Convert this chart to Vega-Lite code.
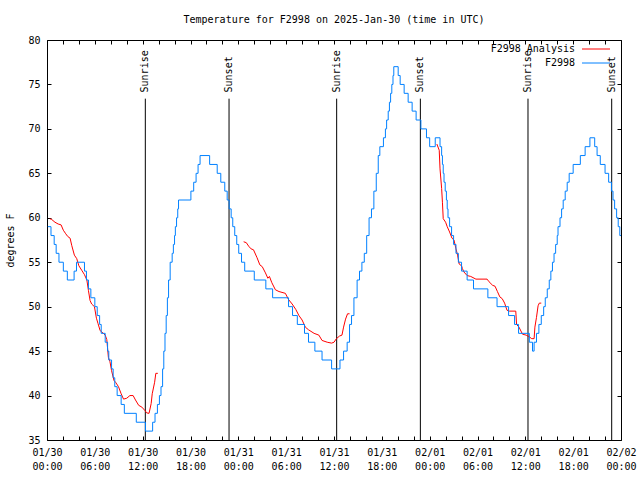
{
  "$schema": "https://vega.github.io/schema/vega-lite/v6.json",
  "width": 574,
  "height": 400,
  "autosize": {"type": "none"},
  "padding": {"left": 47, "top": 40, "right": 19, "bottom": 40},
  "background": "white",
  "config": {
    "view": {"stroke": "black", "strokeWidth": 1},
    "font": "DejaVu Sans Mono",
    "axis": {
      "domain": false, "grid": false,
      "labelFont": "DejaVu Sans Mono", "labelFontSize": 10, "labelColor": "black",
      "tickColor": "black", "tickSize": -4, "tickWidth": 1,
      "titleFont": "DejaVu Sans Mono", "titleFontSize": 10, "titleFontWeight": "normal", "titleColor": "black"
    },
    "legend": {
      "orient": "none", "legendX": 544, "legendY": 4, "padding": 0,
      "labelFont": "DejaVu Sans Mono", "labelFontSize": 10, "labelColor": "black",
      "symbolType": "M-4,0H4", "symbolSize": 49, "symbolStrokeWidth": 1,
      "labelAlign": "right", "labelOffset": -26, "rowPadding": 4
    }
  },
  "title": {
    "text": "Temperature for F2998 on 2025-Jan-30 (time in UTC)",
    "font": "DejaVu Sans Mono", "fontSize": 10, "fontWeight": "normal", "color": "black",
    "anchor": "middle", "offset": 10
  },
  "datasets": {
    "sun": [
      {"t": "2025-01-30T12:20:00Z", "label": "Sunrise"},
      {"t": "2025-01-30T22:50:00Z", "label": "Sunset"},
      {"t": "2025-01-31T12:20:00Z", "label": "Sunrise"},
      {"t": "2025-01-31T22:50:00Z", "label": "Sunset"},
      {"t": "2025-02-01T12:20:00Z", "label": "Sunrise"},
      {"t": "2025-02-01T22:50:00Z", "label": "Sunset"}
    ],
    "obs": [
      {"t":"2025-01-30T00:06:00Z","v":59,"s":"F2998","g":0},
      {"t":"2025-01-30T00:30:00Z","v":58,"s":"F2998","g":0},
      {"t":"2025-01-30T00:54:00Z","v":57,"s":"F2998","g":0},
      {"t":"2025-01-30T01:09:00Z","v":56,"s":"F2998","g":0},
      {"t":"2025-01-30T01:30:00Z","v":55,"s":"F2998","g":0},
      {"t":"2025-01-30T02:03:00Z","v":54,"s":"F2998","g":0},
      {"t":"2025-01-30T02:33:00Z","v":53,"s":"F2998","g":0},
      {"t":"2025-01-30T03:24:00Z","v":54,"s":"F2998","g":0},
      {"t":"2025-01-30T03:42:00Z","v":55,"s":"F2998","g":0},
      {"t":"2025-01-30T04:42:00Z","v":54,"s":"F2998","g":0},
      {"t":"2025-01-30T04:57:00Z","v":53,"s":"F2998","g":0},
      {"t":"2025-01-30T05:12:00Z","v":52,"s":"F2998","g":0},
      {"t":"2025-01-30T05:30:00Z","v":51,"s":"F2998","g":0},
      {"t":"2025-01-30T06:00:00Z","v":50,"s":"F2998","g":0},
      {"t":"2025-01-30T06:18:00Z","v":49,"s":"F2998","g":0},
      {"t":"2025-01-30T06:36:00Z","v":48,"s":"F2998","g":0},
      {"t":"2025-01-30T06:48:00Z","v":47,"s":"F2998","g":0},
      {"t":"2025-01-30T07:18:00Z","v":46,"s":"F2998","g":0},
      {"t":"2025-01-30T07:36:00Z","v":45,"s":"F2998","g":0},
      {"t":"2025-01-30T07:45:00Z","v":44,"s":"F2998","g":0},
      {"t":"2025-01-30T08:06:00Z","v":43,"s":"F2998","g":0},
      {"t":"2025-01-30T08:18:00Z","v":42,"s":"F2998","g":0},
      {"t":"2025-01-30T08:30:00Z","v":41,"s":"F2998","g":0},
      {"t":"2025-01-30T08:48:00Z","v":40,"s":"F2998","g":0},
      {"t":"2025-01-30T09:18:00Z","v":39,"s":"F2998","g":0},
      {"t":"2025-01-30T09:42:00Z","v":38,"s":"F2998","g":0},
      {"t":"2025-01-30T11:12:00Z","v":37,"s":"F2998","g":0},
      {"t":"2025-01-30T12:21:00Z","v":36,"s":"F2998","g":0},
      {"t":"2025-01-30T13:15:00Z","v":37,"s":"F2998","g":0},
      {"t":"2025-01-30T13:33:00Z","v":38,"s":"F2998","g":0},
      {"t":"2025-01-30T13:51:00Z","v":39,"s":"F2998","g":0},
      {"t":"2025-01-30T14:06:00Z","v":40,"s":"F2998","g":0},
      {"t":"2025-01-30T14:18:00Z","v":41,"s":"F2998","g":0},
      {"t":"2025-01-30T14:30:00Z","v":43,"s":"F2998","g":0},
      {"t":"2025-01-30T14:39:00Z","v":45,"s":"F2998","g":0},
      {"t":"2025-01-30T14:48:00Z","v":47,"s":"F2998","g":0},
      {"t":"2025-01-30T14:57:00Z","v":49,"s":"F2998","g":0},
      {"t":"2025-01-30T15:06:00Z","v":51,"s":"F2998","g":0},
      {"t":"2025-01-30T15:15:00Z","v":53,"s":"F2998","g":0},
      {"t":"2025-01-30T15:27:00Z","v":55,"s":"F2998","g":0},
      {"t":"2025-01-30T15:42:00Z","v":56,"s":"F2998","g":0},
      {"t":"2025-01-30T15:51:00Z","v":57,"s":"F2998","g":0},
      {"t":"2025-01-30T16:00:00Z","v":58,"s":"F2998","g":0},
      {"t":"2025-01-30T16:06:00Z","v":59,"s":"F2998","g":0},
      {"t":"2025-01-30T16:15:00Z","v":60,"s":"F2998","g":0},
      {"t":"2025-01-30T16:24:00Z","v":61,"s":"F2998","g":0},
      {"t":"2025-01-30T16:30:00Z","v":62,"s":"F2998","g":0},
      {"t":"2025-01-30T18:03:00Z","v":63,"s":"F2998","g":0},
      {"t":"2025-01-30T18:24:00Z","v":64,"s":"F2998","g":0},
      {"t":"2025-01-30T18:42:00Z","v":65,"s":"F2998","g":0},
      {"t":"2025-01-30T18:57:00Z","v":66,"s":"F2998","g":0},
      {"t":"2025-01-30T19:12:00Z","v":67,"s":"F2998","g":0},
      {"t":"2025-01-30T20:24:00Z","v":66,"s":"F2998","g":0},
      {"t":"2025-01-30T21:21:00Z","v":65,"s":"F2998","g":0},
      {"t":"2025-01-30T21:48:00Z","v":64,"s":"F2998","g":0},
      {"t":"2025-01-30T22:18:00Z","v":63,"s":"F2998","g":0},
      {"t":"2025-01-30T22:36:00Z","v":62,"s":"F2998","g":0},
      {"t":"2025-01-30T22:51:00Z","v":61,"s":"F2998","g":0},
      {"t":"2025-01-30T23:06:00Z","v":60,"s":"F2998","g":0},
      {"t":"2025-01-30T23:18:00Z","v":59,"s":"F2998","g":0},
      {"t":"2025-01-30T23:33:00Z","v":58,"s":"F2998","g":0},
      {"t":"2025-01-30T23:48:00Z","v":57,"s":"F2998","g":0},
      {"t":"2025-01-31T00:03:00Z","v":56,"s":"F2998","g":0},
      {"t":"2025-01-31T00:24:00Z","v":55,"s":"F2998","g":0},
      {"t":"2025-01-31T00:48:00Z","v":54,"s":"F2998","g":0},
      {"t":"2025-01-31T02:00:00Z","v":53,"s":"F2998","g":0},
      {"t":"2025-01-31T03:27:00Z","v":52,"s":"F2998","g":0},
      {"t":"2025-01-31T04:18:00Z","v":51,"s":"F2998","g":0},
      {"t":"2025-01-31T06:18:00Z","v":50,"s":"F2998","g":0},
      {"t":"2025-01-31T06:48:00Z","v":49,"s":"F2998","g":0},
      {"t":"2025-01-31T07:24:00Z","v":48,"s":"F2998","g":0},
      {"t":"2025-01-31T08:18:00Z","v":47,"s":"F2998","g":0},
      {"t":"2025-01-31T08:48:00Z","v":46,"s":"F2998","g":0},
      {"t":"2025-01-31T09:36:00Z","v":45,"s":"F2998","g":0},
      {"t":"2025-01-31T10:30:00Z","v":44,"s":"F2998","g":0},
      {"t":"2025-01-31T11:42:00Z","v":43,"s":"F2998","g":0},
      {"t":"2025-01-31T12:45:00Z","v":44,"s":"F2998","g":0},
      {"t":"2025-01-31T13:12:00Z","v":45,"s":"F2998","g":0},
      {"t":"2025-01-31T13:39:00Z","v":46,"s":"F2998","g":0},
      {"t":"2025-01-31T13:57:00Z","v":48,"s":"F2998","g":0},
      {"t":"2025-01-31T14:12:00Z","v":49,"s":"F2998","g":0},
      {"t":"2025-01-31T14:30:00Z","v":51,"s":"F2998","g":0},
      {"t":"2025-01-31T14:54:00Z","v":53,"s":"F2998","g":0},
      {"t":"2025-01-31T15:12:00Z","v":54,"s":"F2998","g":0},
      {"t":"2025-01-31T15:30:00Z","v":55,"s":"F2998","g":0},
      {"t":"2025-01-31T15:48:00Z","v":56,"s":"F2998","g":0},
      {"t":"2025-01-31T16:06:00Z","v":58,"s":"F2998","g":0},
      {"t":"2025-01-31T16:24:00Z","v":60,"s":"F2998","g":0},
      {"t":"2025-01-31T16:42:00Z","v":61,"s":"F2998","g":0},
      {"t":"2025-01-31T17:00:00Z","v":63,"s":"F2998","g":0},
      {"t":"2025-01-31T17:18:00Z","v":65,"s":"F2998","g":0},
      {"t":"2025-01-31T17:33:00Z","v":67,"s":"F2998","g":0},
      {"t":"2025-01-31T17:45:00Z","v":68,"s":"F2998","g":0},
      {"t":"2025-01-31T18:12:00Z","v":69,"s":"F2998","g":0},
      {"t":"2025-01-31T18:27:00Z","v":70,"s":"F2998","g":0},
      {"t":"2025-01-31T18:36:00Z","v":71,"s":"F2998","g":0},
      {"t":"2025-01-31T18:48:00Z","v":72,"s":"F2998","g":0},
      {"t":"2025-01-31T18:57:00Z","v":73,"s":"F2998","g":0},
      {"t":"2025-01-31T19:06:00Z","v":74,"s":"F2998","g":0},
      {"t":"2025-01-31T19:15:00Z","v":75,"s":"F2998","g":0},
      {"t":"2025-01-31T19:24:00Z","v":76,"s":"F2998","g":0},
      {"t":"2025-01-31T19:30:00Z","v":77,"s":"F2998","g":0},
      {"t":"2025-01-31T20:03:00Z","v":76,"s":"F2998","g":0},
      {"t":"2025-01-31T20:18:00Z","v":75,"s":"F2998","g":0},
      {"t":"2025-01-31T20:48:00Z","v":74,"s":"F2998","g":0},
      {"t":"2025-01-31T21:18:00Z","v":73,"s":"F2998","g":0},
      {"t":"2025-01-31T21:48:00Z","v":72,"s":"F2998","g":0},
      {"t":"2025-01-31T22:18:00Z","v":71,"s":"F2998","g":0},
      {"t":"2025-01-31T22:54:00Z","v":70,"s":"F2998","g":0},
      {"t":"2025-01-31T23:36:00Z","v":69,"s":"F2998","g":0},
      {"t":"2025-02-01T00:00:00Z","v":68,"s":"F2998","g":0},
      {"t":"2025-02-01T00:42:00Z","v":69,"s":"F2998","g":0},
      {"t":"2025-02-01T01:18:00Z","v":68,"s":"F2998","g":0},
      {"t":"2025-02-01T01:30:00Z","v":67,"s":"F2998","g":0},
      {"t":"2025-02-01T01:36:00Z","v":66,"s":"F2998","g":0},
      {"t":"2025-02-01T01:42:00Z","v":65,"s":"F2998","g":0},
      {"t":"2025-02-01T01:48:00Z","v":64,"s":"F2998","g":0},
      {"t":"2025-02-01T01:57:00Z","v":63,"s":"F2998","g":0},
      {"t":"2025-02-01T02:06:00Z","v":62,"s":"F2998","g":0},
      {"t":"2025-02-01T02:12:00Z","v":61,"s":"F2998","g":0},
      {"t":"2025-02-01T02:18:00Z","v":60,"s":"F2998","g":0},
      {"t":"2025-02-01T02:30:00Z","v":59,"s":"F2998","g":0},
      {"t":"2025-02-01T02:45:00Z","v":58,"s":"F2998","g":0},
      {"t":"2025-02-01T03:00:00Z","v":57,"s":"F2998","g":0},
      {"t":"2025-02-01T03:18:00Z","v":56,"s":"F2998","g":0},
      {"t":"2025-02-01T03:36:00Z","v":55,"s":"F2998","g":0},
      {"t":"2025-02-01T04:00:00Z","v":54,"s":"F2998","g":0},
      {"t":"2025-02-01T04:42:00Z","v":53,"s":"F2998","g":0},
      {"t":"2025-02-01T05:30:00Z","v":52,"s":"F2998","g":0},
      {"t":"2025-02-01T07:18:00Z","v":51,"s":"F2998","g":0},
      {"t":"2025-02-01T08:27:00Z","v":50,"s":"F2998","g":0},
      {"t":"2025-02-01T09:54:00Z","v":49,"s":"F2998","g":0},
      {"t":"2025-02-01T10:39:00Z","v":48,"s":"F2998","g":0},
      {"t":"2025-02-01T11:09:00Z","v":47,"s":"F2998","g":0},
      {"t":"2025-02-01T12:30:00Z","v":46,"s":"F2998","g":0},
      {"t":"2025-02-01T12:54:00Z","v":45,"s":"F2998","g":0},
      {"t":"2025-02-01T13:06:00Z","v":46,"s":"F2998","g":0},
      {"t":"2025-02-01T13:24:00Z","v":47,"s":"F2998","g":0},
      {"t":"2025-02-01T13:42:00Z","v":48,"s":"F2998","g":0},
      {"t":"2025-02-01T14:00:00Z","v":49,"s":"F2998","g":0},
      {"t":"2025-02-01T14:18:00Z","v":50,"s":"F2998","g":0},
      {"t":"2025-02-01T14:30:00Z","v":51,"s":"F2998","g":0},
      {"t":"2025-02-01T14:45:00Z","v":52,"s":"F2998","g":0},
      {"t":"2025-02-01T15:00:00Z","v":53,"s":"F2998","g":0},
      {"t":"2025-02-01T15:12:00Z","v":54,"s":"F2998","g":0},
      {"t":"2025-02-01T15:24:00Z","v":55,"s":"F2998","g":0},
      {"t":"2025-02-01T15:36:00Z","v":56,"s":"F2998","g":0},
      {"t":"2025-02-01T15:48:00Z","v":57,"s":"F2998","g":0},
      {"t":"2025-02-01T16:00:00Z","v":58,"s":"F2998","g":0},
      {"t":"2025-02-01T16:06:00Z","v":59,"s":"F2998","g":0},
      {"t":"2025-02-01T16:21:00Z","v":60,"s":"F2998","g":0},
      {"t":"2025-02-01T16:33:00Z","v":61,"s":"F2998","g":0},
      {"t":"2025-02-01T16:45:00Z","v":62,"s":"F2998","g":0},
      {"t":"2025-02-01T17:00:00Z","v":63,"s":"F2998","g":0},
      {"t":"2025-02-01T17:15:00Z","v":64,"s":"F2998","g":0},
      {"t":"2025-02-01T17:30:00Z","v":65,"s":"F2998","g":0},
      {"t":"2025-02-01T18:00:00Z","v":66,"s":"F2998","g":0},
      {"t":"2025-02-01T18:54:00Z","v":67,"s":"F2998","g":0},
      {"t":"2025-02-01T19:30:00Z","v":68,"s":"F2998","g":0},
      {"t":"2025-02-01T20:06:00Z","v":69,"s":"F2998","g":0},
      {"t":"2025-02-01T20:42:00Z","v":68,"s":"F2998","g":0},
      {"t":"2025-02-01T21:00:00Z","v":67,"s":"F2998","g":0},
      {"t":"2025-02-01T21:24:00Z","v":66,"s":"F2998","g":0},
      {"t":"2025-02-01T22:00:00Z","v":65,"s":"F2998","g":0},
      {"t":"2025-02-01T22:27:00Z","v":64,"s":"F2998","g":0},
      {"t":"2025-02-01T22:48:00Z","v":63,"s":"F2998","g":0},
      {"t":"2025-02-01T23:00:00Z","v":62,"s":"F2998","g":0},
      {"t":"2025-02-01T23:12:00Z","v":61,"s":"F2998","g":0},
      {"t":"2025-02-01T23:27:00Z","v":60,"s":"F2998","g":0},
      {"t":"2025-02-01T23:39:00Z","v":59,"s":"F2998","g":0},
      {"t":"2025-02-01T23:51:00Z","v":58,"s":"F2998","g":0},
      {"t":"2025-02-02T00:00:00Z","v":58,"s":"F2998","g":0},
      {"t":"2025-01-30T00:21:00Z","v":59.9,"s":"F2998 Analysis","g":1},
      {"t":"2025-01-30T00:36:00Z","v":59.8,"s":"F2998 Analysis","g":1},
      {"t":"2025-01-30T01:00:00Z","v":59.5,"s":"F2998 Analysis","g":1},
      {"t":"2025-01-30T01:24:00Z","v":59.3,"s":"F2998 Analysis","g":1},
      {"t":"2025-01-30T01:46:00Z","v":59.2,"s":"F2998 Analysis","g":1},
      {"t":"2025-01-30T02:03:00Z","v":58.6,"s":"F2998 Analysis","g":1},
      {"t":"2025-01-30T02:21:00Z","v":58.2,"s":"F2998 Analysis","g":1},
      {"t":"2025-01-30T02:36:00Z","v":57.9,"s":"F2998 Analysis","g":1},
      {"t":"2025-01-30T02:54:00Z","v":57.7,"s":"F2998 Analysis","g":1},
      {"t":"2025-01-30T03:06:00Z","v":56.9,"s":"F2998 Analysis","g":1},
      {"t":"2025-01-30T03:26:00Z","v":55.8,"s":"F2998 Analysis","g":1},
      {"t":"2025-01-30T03:44:00Z","v":55.4,"s":"F2998 Analysis","g":1},
      {"t":"2025-01-30T04:00:00Z","v":54.6,"s":"F2998 Analysis","g":1},
      {"t":"2025-01-30T04:21:00Z","v":54.1,"s":"F2998 Analysis","g":1},
      {"t":"2025-01-30T04:42:00Z","v":53.6,"s":"F2998 Analysis","g":1},
      {"t":"2025-01-30T05:00:00Z","v":53.0,"s":"F2998 Analysis","g":1},
      {"t":"2025-01-30T05:12:00Z","v":51.8,"s":"F2998 Analysis","g":1},
      {"t":"2025-01-30T05:24:00Z","v":50.7,"s":"F2998 Analysis","g":1},
      {"t":"2025-01-30T05:36:00Z","v":50.3,"s":"F2998 Analysis","g":1},
      {"t":"2025-01-30T05:57:00Z","v":50.0,"s":"F2998 Analysis","g":1},
      {"t":"2025-01-30T06:12:00Z","v":48.7,"s":"F2998 Analysis","g":1},
      {"t":"2025-01-30T06:24:00Z","v":48.1,"s":"F2998 Analysis","g":1},
      {"t":"2025-01-30T06:40:00Z","v":47.3,"s":"F2998 Analysis","g":1},
      {"t":"2025-01-30T07:04:00Z","v":47.0,"s":"F2998 Analysis","g":1},
      {"t":"2025-01-30T07:18:00Z","v":46.8,"s":"F2998 Analysis","g":1},
      {"t":"2025-01-30T07:30:00Z","v":46.3,"s":"F2998 Analysis","g":1},
      {"t":"2025-01-30T07:42:00Z","v":44.3,"s":"F2998 Analysis","g":1},
      {"t":"2025-01-30T07:54:00Z","v":43.8,"s":"F2998 Analysis","g":1},
      {"t":"2025-01-30T08:06:00Z","v":42.8,"s":"F2998 Analysis","g":1},
      {"t":"2025-01-30T08:24:00Z","v":41.7,"s":"F2998 Analysis","g":1},
      {"t":"2025-01-30T08:36:00Z","v":41.5,"s":"F2998 Analysis","g":1},
      {"t":"2025-01-30T08:58:00Z","v":41.0,"s":"F2998 Analysis","g":1},
      {"t":"2025-01-30T09:18:00Z","v":40.2,"s":"F2998 Analysis","g":1},
      {"t":"2025-01-30T09:36:00Z","v":39.6,"s":"F2998 Analysis","g":1},
      {"t":"2025-01-30T10:00:00Z","v":39.7,"s":"F2998 Analysis","g":1},
      {"t":"2025-01-30T10:24:00Z","v":40.0,"s":"F2998 Analysis","g":1},
      {"t":"2025-01-30T10:48:00Z","v":40.0,"s":"F2998 Analysis","g":1},
      {"t":"2025-01-30T11:06:00Z","v":39.5,"s":"F2998 Analysis","g":1},
      {"t":"2025-01-30T11:30:00Z","v":38.9,"s":"F2998 Analysis","g":1},
      {"t":"2025-01-30T11:54:00Z","v":38.7,"s":"F2998 Analysis","g":1},
      {"t":"2025-01-30T12:18:00Z","v":38.3,"s":"F2998 Analysis","g":1},
      {"t":"2025-01-30T12:30:00Z","v":38.05,"s":"F2998 Analysis","g":1},
      {"t":"2025-01-30T12:48:00Z","v":38.0,"s":"F2998 Analysis","g":1},
      {"t":"2025-01-30T13:04:00Z","v":39.1,"s":"F2998 Analysis","g":1},
      {"t":"2025-01-30T13:12:00Z","v":40.2,"s":"F2998 Analysis","g":1},
      {"t":"2025-01-30T13:30:00Z","v":41.5,"s":"F2998 Analysis","g":1},
      {"t":"2025-01-30T13:39:00Z","v":42.5,"s":"F2998 Analysis","g":1},
      {"t":"2025-01-30T13:54:00Z","v":42.5,"s":"F2998 Analysis","g":1},
      {"t":"2025-01-31T00:40:00Z","v":57.3,"s":"F2998 Analysis","g":2},
      {"t":"2025-01-31T01:00:00Z","v":57.2,"s":"F2998 Analysis","g":2},
      {"t":"2025-01-31T01:18:00Z","v":56.8,"s":"F2998 Analysis","g":2},
      {"t":"2025-01-31T01:36:00Z","v":56.5,"s":"F2998 Analysis","g":2},
      {"t":"2025-01-31T01:54:00Z","v":56.4,"s":"F2998 Analysis","g":2},
      {"t":"2025-01-31T02:21:00Z","v":55.5,"s":"F2998 Analysis","g":2},
      {"t":"2025-01-31T02:42:00Z","v":54.7,"s":"F2998 Analysis","g":2},
      {"t":"2025-01-31T03:00:00Z","v":54.5,"s":"F2998 Analysis","g":2},
      {"t":"2025-01-31T03:24:00Z","v":53.8,"s":"F2998 Analysis","g":2},
      {"t":"2025-01-31T03:42:00Z","v":53.2,"s":"F2998 Analysis","g":2},
      {"t":"2025-01-31T03:54:00Z","v":53.4,"s":"F2998 Analysis","g":2},
      {"t":"2025-01-31T04:12:00Z","v":52.7,"s":"F2998 Analysis","g":2},
      {"t":"2025-01-31T04:39:00Z","v":51.9,"s":"F2998 Analysis","g":2},
      {"t":"2025-01-31T05:06:00Z","v":51.7,"s":"F2998 Analysis","g":2},
      {"t":"2025-01-31T05:54:00Z","v":51.5,"s":"F2998 Analysis","g":2},
      {"t":"2025-01-31T06:18:00Z","v":50.8,"s":"F2998 Analysis","g":2},
      {"t":"2025-01-31T06:45:00Z","v":50.3,"s":"F2998 Analysis","g":2},
      {"t":"2025-01-31T07:12:00Z","v":49.7,"s":"F2998 Analysis","g":2},
      {"t":"2025-01-31T07:36:00Z","v":49.0,"s":"F2998 Analysis","g":2},
      {"t":"2025-01-31T08:00:00Z","v":48.5,"s":"F2998 Analysis","g":2},
      {"t":"2025-01-31T08:24:00Z","v":47.7,"s":"F2998 Analysis","g":2},
      {"t":"2025-01-31T08:48:00Z","v":47.4,"s":"F2998 Analysis","g":2},
      {"t":"2025-01-31T09:30:00Z","v":47.0,"s":"F2998 Analysis","g":2},
      {"t":"2025-01-31T10:06:00Z","v":46.8,"s":"F2998 Analysis","g":2},
      {"t":"2025-01-31T10:30:00Z","v":46.2,"s":"F2998 Analysis","g":2},
      {"t":"2025-01-31T11:09:00Z","v":46.0,"s":"F2998 Analysis","g":2},
      {"t":"2025-01-31T11:42:00Z","v":45.9,"s":"F2998 Analysis","g":2},
      {"t":"2025-01-31T12:00:00Z","v":46.0,"s":"F2998 Analysis","g":2},
      {"t":"2025-01-31T12:18:00Z","v":46.4,"s":"F2998 Analysis","g":2},
      {"t":"2025-01-31T12:42:00Z","v":46.7,"s":"F2998 Analysis","g":2},
      {"t":"2025-01-31T13:00:00Z","v":46.8,"s":"F2998 Analysis","g":2},
      {"t":"2025-01-31T13:12:00Z","v":47.7,"s":"F2998 Analysis","g":2},
      {"t":"2025-01-31T13:27:00Z","v":48.6,"s":"F2998 Analysis","g":2},
      {"t":"2025-01-31T13:42:00Z","v":49.2,"s":"F2998 Analysis","g":2},
      {"t":"2025-01-31T13:57:00Z","v":49.2,"s":"F2998 Analysis","g":2},
      {"t":"2025-02-01T00:54:00Z","v":68.3,"s":"F2998 Analysis","g":3},
      {"t":"2025-02-01T01:12:00Z","v":67.6,"s":"F2998 Analysis","g":3},
      {"t":"2025-02-01T01:18:00Z","v":65.5,"s":"F2998 Analysis","g":3},
      {"t":"2025-02-01T01:30:00Z","v":63.3,"s":"F2998 Analysis","g":3},
      {"t":"2025-02-01T01:36:00Z","v":61.75,"s":"F2998 Analysis","g":3},
      {"t":"2025-02-01T01:42:00Z","v":59.9,"s":"F2998 Analysis","g":3},
      {"t":"2025-02-01T02:00:00Z","v":59.5,"s":"F2998 Analysis","g":3},
      {"t":"2025-02-01T02:12:00Z","v":59.0,"s":"F2998 Analysis","g":3},
      {"t":"2025-02-01T02:30:00Z","v":58.4,"s":"F2998 Analysis","g":3},
      {"t":"2025-02-01T02:48:00Z","v":57.7,"s":"F2998 Analysis","g":3},
      {"t":"2025-02-01T03:03:00Z","v":57.5,"s":"F2998 Analysis","g":3},
      {"t":"2025-02-01T03:18:00Z","v":56.5,"s":"F2998 Analysis","g":3},
      {"t":"2025-02-01T03:30:00Z","v":55.8,"s":"F2998 Analysis","g":3},
      {"t":"2025-02-01T03:42:00Z","v":54.8,"s":"F2998 Analysis","g":3},
      {"t":"2025-02-01T04:00:00Z","v":54.6,"s":"F2998 Analysis","g":3},
      {"t":"2025-02-01T04:06:00Z","v":54.3,"s":"F2998 Analysis","g":3},
      {"t":"2025-02-01T04:18:00Z","v":53.9,"s":"F2998 Analysis","g":3},
      {"t":"2025-02-01T04:42:00Z","v":53.5,"s":"F2998 Analysis","g":3},
      {"t":"2025-02-01T05:09:00Z","v":53.4,"s":"F2998 Analysis","g":3},
      {"t":"2025-02-01T05:48:00Z","v":53.1,"s":"F2998 Analysis","g":3},
      {"t":"2025-02-01T07:12:00Z","v":53.1,"s":"F2998 Analysis","g":3},
      {"t":"2025-02-01T07:27:00Z","v":52.8,"s":"F2998 Analysis","g":3},
      {"t":"2025-02-01T07:54:00Z","v":52.4,"s":"F2998 Analysis","g":3},
      {"t":"2025-02-01T08:12:00Z","v":52.3,"s":"F2998 Analysis","g":3},
      {"t":"2025-02-01T08:30:00Z","v":51.7,"s":"F2998 Analysis","g":3},
      {"t":"2025-02-01T08:48:00Z","v":51.1,"s":"F2998 Analysis","g":3},
      {"t":"2025-02-01T09:06:00Z","v":50.9,"s":"F2998 Analysis","g":3},
      {"t":"2025-02-01T09:24:00Z","v":50.4,"s":"F2998 Analysis","g":3},
      {"t":"2025-02-01T09:42:00Z","v":49.6,"s":"F2998 Analysis","g":3},
      {"t":"2025-02-01T10:00:00Z","v":49.5,"s":"F2998 Analysis","g":3},
      {"t":"2025-02-01T10:48:00Z","v":49.5,"s":"F2998 Analysis","g":3},
      {"t":"2025-02-01T10:54:00Z","v":48.0,"s":"F2998 Analysis","g":3},
      {"t":"2025-02-01T11:12:00Z","v":47.7,"s":"F2998 Analysis","g":3},
      {"t":"2025-02-01T11:39:00Z","v":46.9,"s":"F2998 Analysis","g":3},
      {"t":"2025-02-01T12:06:00Z","v":46.8,"s":"F2998 Analysis","g":3},
      {"t":"2025-02-01T12:30:00Z","v":46.6,"s":"F2998 Analysis","g":3},
      {"t":"2025-02-01T12:48:00Z","v":46.4,"s":"F2998 Analysis","g":3},
      {"t":"2025-02-01T13:06:00Z","v":46.4,"s":"F2998 Analysis","g":3},
      {"t":"2025-02-01T13:12:00Z","v":47.7,"s":"F2998 Analysis","g":3},
      {"t":"2025-02-01T13:24:00Z","v":48.8,"s":"F2998 Analysis","g":3},
      {"t":"2025-02-01T13:36:00Z","v":50.1,"s":"F2998 Analysis","g":3},
      {"t":"2025-02-01T13:45:00Z","v":50.4,"s":"F2998 Analysis","g":3},
      {"t":"2025-02-01T14:00:00Z","v":50.4,"s":"F2998 Analysis","g":3}
    ]
  },
  "resolve": {"axis": {"x": "independent", "y": "independent"}},
  "layer": [
    {
      "data": {"name": "sun"},
      "mark": {"type": "rule", "color": "black", "strokeWidth": 1},
      "encoding": {
        "x": {"field": "t", "type": "temporal",
          "scale": {"type": "utc", "nice": false, "domain": [1738195200000, 1738454400000]},
          "axis": {"orient": "bottom", "title": null, "tickCount": 40,
            "values": [1738195200000,1738202400000,1738209600000,1738216800000,1738224000000,1738231200000,1738238400000,1738245600000,1738252800000,1738260000000,1738267200000,1738274400000,1738281600000,1738288800000,1738296000000,1738303200000,1738310400000,1738317600000,1738324800000,1738332000000,1738339200000,1738346400000,1738353600000,1738360800000,1738368000000,1738375200000,1738382400000,1738389600000,1738396800000,1738404000000,1738411200000,1738418400000,1738425600000,1738432800000,1738440000000,1738447200000,1738454400000],
            "labelExpr": "utchours(datum.value) % 6 == 0 ? [utcFormat(datum.value, '%m/%d'), utcFormat(datum.value, '%H:%M')] : ''",
            "labelOverlap": false, "labelFlush": false, "labelBound": false,
            "labelBaseline": "top", "labelLineHeight": 14, "labelPadding": 11}},
        "y": {"datum": 35, "type": "quantitative",
          "scale": {"domain": [35, 80], "nice": false},
          "axis": {"orient": "left", "title": "degrees F", "values": [35, 40, 45, 50, 55, 60, 65, 70, 75, 80], "tickCount": 10, "labelPadding": 11, "titlePadding": 12}},
        "y2": {"datum": 73.4}
      }
    },
    {
      "data": {"name": "sun"},
      "mark": {"type": "text", "angle": 270, "align": "left", "baseline": "middle", "font": "DejaVu Sans Mono", "fontSize": 10, "color": "black"},
      "encoding": {
        "x": {"field": "t", "type": "temporal",
          "axis": {"orient": "top", "title": null, "labels": false, "tickCount": 40,
            "values": [1738195200000,1738202400000,1738209600000,1738216800000,1738224000000,1738231200000,1738238400000,1738245600000,1738252800000,1738260000000,1738267200000,1738274400000,1738281600000,1738288800000,1738296000000,1738303200000,1738310400000,1738317600000,1738324800000,1738332000000,1738339200000,1738346400000,1738353600000,1738360800000,1738368000000,1738375200000,1738382400000,1738389600000,1738396800000,1738404000000,1738411200000,1738418400000,1738425600000,1738432800000,1738440000000,1738447200000,1738454400000]}},
        "y": {"datum": 74.1, "type": "quantitative",
          "axis": {"orient": "right", "title": null, "labels": false, "values": [35, 40, 45, 50, 55, 60, 65, 70, 75, 80], "tickCount": 10}},
        "text": {"field": "label"}
      }
    },
    {
      "data": {"name": "obs"},
      "transform": [{"filter": "datum.s == 'F2998 Analysis'"}],
      "mark": {"type": "line", "strokeWidth": 1, "interpolate": "linear"},
      "encoding": {
        "x": {"field": "t", "type": "temporal", "axis": null},
        "y": {"field": "v", "type": "quantitative", "axis": null},
        "detail": {"field": "g", "type": "nominal"},
        "color": {"field": "s", "type": "nominal",
          "scale": {"domain": ["F2998 Analysis", "F2998"], "range": ["#ff0000", "#0080ff"]},
          "legend": {"title": null}}
      }
    },
    {
      "data": {"name": "obs"},
      "transform": [{"filter": "datum.s == 'F2998'"}],
      "mark": {"type": "line", "strokeWidth": 1, "interpolate": "step-after"},
      "encoding": {
        "x": {"field": "t", "type": "temporal", "axis": null},
        "y": {"field": "v", "type": "quantitative", "axis": null},
        "color": {"field": "s", "type": "nominal", "legend": {"title": null}}
      }
    }
  ]
}
